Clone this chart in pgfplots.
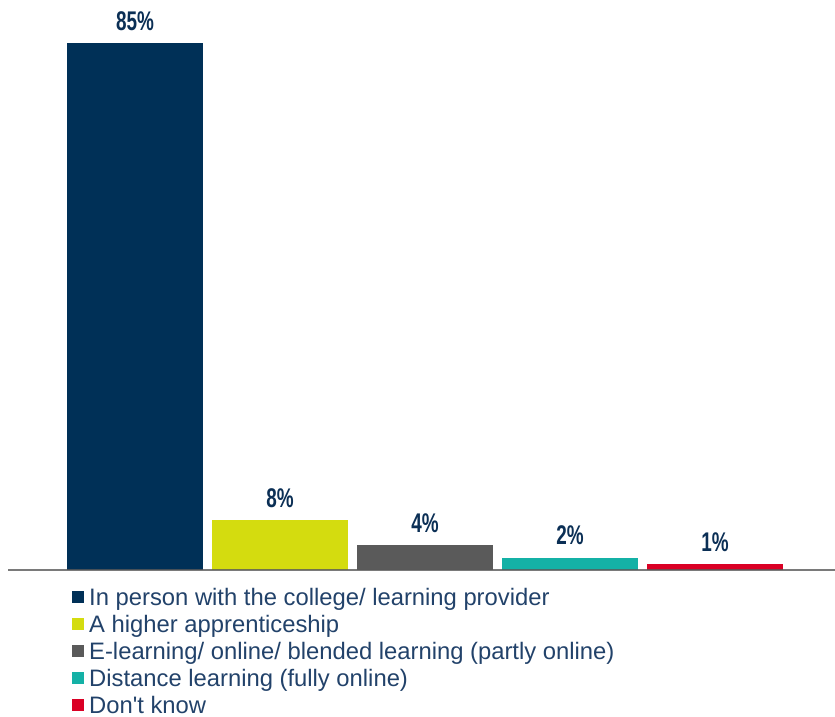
\documentclass[border=0pt]{standalone}
\usepackage{pgfplots}
\pgfplotsset{compat=1.18}
\usepackage{fontspec}
\setmainfont{Liberation Sans}
\definecolor{cnavy}{HTML}{003057}
\definecolor{clime}{HTML}{D4DC0F}
\definecolor{cgrey}{HTML}{5A5A5A}
\definecolor{cteal}{HTML}{14B1A6}
\definecolor{cred}{HTML}{DA0025}
\definecolor{clabel}{HTML}{0B2F55}
\definecolor{clegend}{HTML}{22426A}
\begin{document}
\begin{tikzpicture}
\begin{axis}[
  name=ax,
  scale only axis,
  width=827bp, height=570bp,
  xmin=-0.8759, xmax=4.8276,
  ymin=0, ymax=91.94,
  axis x line*=bottom,
  hide y axis,
  xtick=\empty,
  axis line style={-, draw=black!65, line width=2bp, opacity=0.8},
  axis on top,
  /pgf/number format/assume math mode=true,
  ybar, bar width=136bp, bar shift=0pt,
  nodes near coords={\scalebox{0.7}[1]{\pgfmathprintnumber{\pgfplotspointmeta}\%}},
  every node near coord/.append style={text=clabel, font=\fontsize{27bp}{27bp}\selectfont\bfseries, anchor=south, yshift=9bp},
  legend cell align=left,
  legend image code/.code={\fill[#1,draw=none] (0bp,-1bp) rectangle (12bp,11bp);},
  legend style={draw=none, fill=none, at={(0,0)}, anchor=north west, xshift=61bp, yshift=-16bp,
    font=\fontsize{23.8bp}{27bp}\selectfont, text=clegend, column sep=5bp,
    nodes={inner sep=0pt, text height=17bp, text depth=10bp}},
]
\addplot[fill=cnavy, draw=none] coordinates {(0,85)};
\addlegendentry{In person with the college/ learning provider}
\addplot[fill=clime, draw=none] coordinates {(1,8)};
\addlegendentry{A higher apprenticeship}
\addplot[fill=cgrey, draw=none] coordinates {(2,4)};
\addlegendentry{E-learning/ online/ blended learning (partly online)}
\addplot[fill=cteal, draw=none] coordinates {(3,2)};
\addlegendentry{Distance learning (fully online)}
\addplot[fill=cred, draw=none] coordinates {(4,1)};
\addlegendentry{Don\textquotesingle t know}
\end{axis}
\pgfresetboundingbox
\path (ax.south west) ++(-8bp,-147bp) rectangle (ax.north east);
\end{tikzpicture}
\end{document}
